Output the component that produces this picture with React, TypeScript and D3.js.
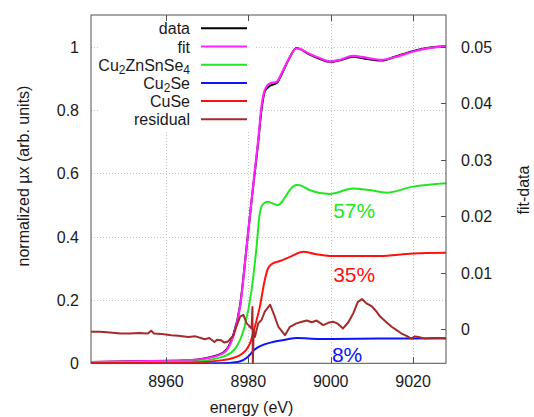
import React, { useEffect, useRef } from "react";
import * as d3 from "d3";

const W = 534;
const H = 417;

const xTicks = [8960, 8980, 9000, 9020];
const yTicks = [0, 0.2, 0.4, 0.6, 0.8, 1];
const y2Ticks = [0, 0.01, 0.02, 0.03, 0.04, 0.05];

// measured spectrum and total fit (normalized)
const edgeEnergy = [
  8941.8, 8956.1, 8965.8, 8969.9, 8973.9, 8976.3, 8978.0, 8979.6, 8980.8, 8981.6,
  8982.4, 8983.2, 8984.0, 8985.2, 8986.9, 8988.1, 8989.7, 8991.7, 8992.5, 8994.9,
  8997.3, 8999.8, 9002.2, 9005.4, 9008.3, 9012.3, 9015.6, 9019.9, 9024.1, 9028.0,
];
const dataMu = [
  0.004, 0.007, 0.01, 0.017, 0.034, 0.088, 0.183, 0.37, 0.515, 0.606,
  0.698, 0.8, 0.858, 0.876, 0.885, 0.913, 0.957, 0.996, 0.993, 0.975,
  0.962, 0.952, 0.957, 0.968, 0.962, 0.956, 0.968, 0.986, 0.997, 1.001,
];
const fitMu = [
  0.004, 0.007, 0.01, 0.016, 0.032, 0.084, 0.179, 0.368, 0.516, 0.611,
  0.705, 0.81, 0.863, 0.884, 0.889, 0.916, 0.958, 0.995, 0.993, 0.977,
  0.964, 0.953, 0.958, 0.971, 0.966, 0.958, 0.967, 0.984, 0.996, 1.002,
];

// weighted standards
const cztsEnergy = [
  8941.8, 8965.8, 8973.9, 8977.1, 8979.1, 8980.8, 8982.0, 8982.8, 8983.6, 8984.8,
  8985.7, 8987.2, 8988.8, 8990.1, 8991.7, 8992.5, 8994.9, 8999.8, 9005.4, 9009.5,
  9013.6, 9019.9, 9028.0,
];
const cztsMu = [
  0.003, 0.005, 0.021, 0.052, 0.116, 0.232, 0.368, 0.475, 0.503, 0.51,
  0.506, 0.5, 0.522, 0.548, 0.563, 0.562, 0.547, 0.535, 0.552, 0.547,
  0.539, 0.558, 0.569,
];

const cu2seEnergy = [
  8941.8, 8973.0, 8977.7, 8979.8, 8981.4, 8983.0, 8986.2, 8989.5, 8991.7, 8997.4,
  9012.0, 9028.0,
];
const cu2seMu = [0.0, 0.0, 0.005, 0.019, 0.042, 0.055, 0.068, 0.076, 0.08, 0.077, 0.078, 0.079];

const cuseEnergy = [
  8941.8, 8965.8, 8973.9, 8978.0, 8980.4, 8981.6, 8982.8, 8984.0, 8984.8, 8986.0,
  8987.7, 8990.1, 8993.4, 8996.2, 8999.8, 9011.9, 9020.0, 9028.0,
];
const cuseMu = [
  0.001, 0.002, 0.01, 0.026, 0.063, 0.116, 0.179, 0.263, 0.3, 0.316,
  0.323, 0.336, 0.352, 0.345, 0.339, 0.339, 0.347, 0.349,
];

// fit - data, right axis
const residEnergy = [
  8941.8, 8944.0, 8946.4, 8949.0, 8951.3, 8953.5, 8955.6, 8956.4, 8957.1, 8959.0,
  8961.3, 8963.0, 8965.4, 8967.2, 8969.4, 8970.5, 8971.8, 8972.4, 8973.4, 8974.2,
  8975.1, 8976.4, 8977.1, 8978.0, 8978.8, 8979.6, 8980.8, 8981.0, 8981.1, 8981.3,
  8981.6, 8982.4, 8983.2, 8984.0, 8985.3, 8986.1, 8987.3, 8988.9, 8990.1, 8991.7,
  8993.0, 8994.2, 8995.4, 8996.6, 8998.2, 8999.4, 9000.6, 9001.8, 9003.0, 9004.3,
  9005.5, 9006.6, 9007.6, 9008.6, 9010.0, 9011.0, 9012.0, 9013.4, 9014.8, 9016.0,
  9017.2, 9018.4, 9019.6, 9020.4, 9021.3, 9022.9, 9025.0, 9028.0,
];
const residVal = [
  -0.0005, -0.0005, -0.0006, -0.0008, -0.0008, -0.0007, -0.0008, -0.0003, -0.0008, -0.0009,
  -0.0011, -0.0012, -0.0014, -0.0013, -0.0018, -0.0016, -0.0023, -0.0019, -0.002, -0.0024,
  -0.0022, -0.0011, 0.0004, 0.0022, 0.0025, 0.001, 0.0001, 0.0039, -0.006, -0.0002,
  -0.0014, 0.001, 0.0016, 0.0031, 0.0043, 0.0028, 0.0004, -0.0011, 0.0004, 0.001,
  0.0013, 0.0015, 0.0012, 0.0015, 0.0007, 0.0011, 0.0013, 0.0009, 0.0001, 0.0012,
  0.0028, 0.0048, 0.0053, 0.0046, 0.004, 0.0032, 0.0022, 0.0013, 0.0004, -0.0002,
  -0.0008, -0.0012, -0.0017, -0.0013, -0.0014, -0.0017, -0.0016, -0.0017,
];

const legendLabels = ["data", "fit", "Cu2ZnSnSe4", "Cu2Se", "CuSe", "residual"];
const legendColors = ["#000000", "#ff22ff", "#22e622", "#0a14ff", "#ff1010", "#a52a2a"];
const fractionLabels = ["57%", "35%", "8%"];

export default function App() {
  const ref = useRef<SVGSVGElement>(null);

  useEffect(() => {
    const font = "'Liberation Sans', Arial, Helvetica, sans-serif";
    const svg = d3.select(ref.current).attr("width", W).attr("height", H);
    svg.selectAll("*").remove();

    const left = 91, right = 446, top = 15, bottom = 363.3;

    const x = d3.scaleLinear().domain([8941.8, 9028]).range([left, right]);
    const y = d3.scaleLinear().domain([0, 1.1]).range([bottom, top]);
    const y2 = d3.scaleLinear().domain([-0.00607, 0.05561]).range([bottom, top]);

    svg.append("rect").attr("width", W).attr("height", H).attr("fill", "#ffffff");

    // grid
    const grid = svg.append("g").attr("stroke", "#c4c4c4").attr("stroke-width", 1).attr("stroke-dasharray", "1,2");
    grid
      .selectAll(".gx")
      .data(xTicks)
      .join("line")
      .attr("x1", (d) => Math.round(x(d)) + 0.5)
      .attr("x2", (d) => Math.round(x(d)) + 0.5)
      .attr("y1", top)
      .attr("y2", bottom);
    grid
      .selectAll(".gy")
      .data(yTicks.filter((d) => d > 0))
      .join("line")
      .attr("x1", left)
      .attr("x2", right)
      .attr("y1", (d) => Math.round(y(d)) + 0.5)
      .attr("y2", (d) => Math.round(y(d)) + 0.5);

    // opaque key background
    svg.append("rect").attr("x", 100).attr("y", 19).attr("width", 155).attr("height", 111).attr("fill", "#ffffff");

    const defs = svg.append("defs");
    defs
      .append("clipPath")
      .attr("id", "plotclip")
      .append("rect")
      .attr("x", left)
      .attr("y", top)
      .attr("width", right - left)
      .attr("height", bottom - top + 1);

    const plot = svg.append("g").attr("clip-path", "url(#plotclip)");

    const smooth = (ex: number[], vals: number[]) =>
      d3
        .line<number>()
        .x((_, i) => x(ex[i]))
        .y((d) => y(d))
        .curve(d3.curveMonotoneX)(vals);

    const series = [
      { e: edgeEnergy, v: dataMu, c: legendColors[0], w: 2 },
      { e: edgeEnergy, v: fitMu, c: legendColors[1], w: 2.2 },
      { e: cztsEnergy, v: cztsMu, c: legendColors[2], w: 2 },
      { e: cu2seEnergy, v: cu2seMu, c: legendColors[3], w: 2 },
      { e: cuseEnergy, v: cuseMu, c: legendColors[4], w: 2 },
    ];
    series.forEach((s) => {
      plot
        .append("path")
        .attr("d", smooth(s.e, s.v))
        .attr("fill", "none")
        .attr("stroke", s.c)
        .attr("stroke-width", s.w)
        .attr("stroke-linejoin", "round");
    });

    const residLine = d3
      .line<number>()
      .x((_, i) => x(residEnergy[i]))
      .y((d) => y2(d));
    plot
      .append("path")
      .attr("d", residLine(residVal))
      .attr("fill", "none")
      .attr("stroke", legendColors[5])
      .attr("stroke-width", 2)
      .attr("stroke-linejoin", "round");

    // border
    svg
      .append("rect")
      .attr("x", left)
      .attr("y", top)
      .attr("width", right - left)
      .attr("height", bottom - top)
      .attr("fill", "none")
      .attr("stroke", "#505050")
      .attr("stroke-width", 1);

    // ticks
    const ticks = svg.append("g").attr("stroke", "#505050").attr("stroke-width", 1);
    xTicks.forEach((t) => {
      const px = Math.round(x(t)) + 0.5;
      ticks.append("line").attr("x1", px).attr("x2", px).attr("y1", bottom).attr("y2", bottom - 6);
      ticks.append("line").attr("x1", px).attr("x2", px).attr("y1", top).attr("y2", top + 6);
    });
    y2Ticks.forEach((t) => {
      const py = Math.round(y2(t)) + 0.5;
      ticks.append("line").attr("x1", right).attr("x2", right - 5).attr("y1", py).attr("y2", py);
    });

    const txt = svg.append("g").attr("font-family", font).attr("font-size", 16).attr("fill", "#1a1a1a");
    txt
      .selectAll(".xl")
      .data(xTicks)
      .join("text")
      .attr("x", (d) => x(d))
      .attr("y", 387)
      .attr("text-anchor", "middle")
      .text((d) => d3.format("d")(d));
    txt
      .selectAll(".yl")
      .data(yTicks)
      .join("text")
      .attr("x", 79)
      .attr("y", (d) => y(d) + 6)
      .attr("text-anchor", "end")
      .text((d) => (d === 0 ? "0" : d3.format("")(d)));
    txt
      .selectAll(".y2l")
      .data(y2Ticks)
      .join("text")
      .attr("x", 461)
      .attr("y", (d) => y2(d) + 6)
      .attr("text-anchor", "start")
      .text((d) => (d === 0 ? "0" : d3.format(".2f")(d)));

    txt
      .append("text")
      .attr("x", (left + right) / 2 - 17)
      .attr("y", 413)
      .attr("text-anchor", "middle")
      .text("energy (eV)");
    txt
      .append("text")
      .attr("transform", `translate(29, 176) rotate(-90)`)
      .attr("text-anchor", "middle")
      .text("normalized \u00b5x (arb. units)");
    txt
      .append("text")
      .attr("transform", `translate(529, 190) rotate(-90)`)
      .attr("text-anchor", "middle")
      .text("fit-data");

    // legend
    const key = svg.append("g");
    legendLabels.forEach((lab, i) => {
      const cy = 28.3 + i * 18.2;
      const t = key
        .append("text")
        .attr("x", 190)
        .attr("y", cy + 6)
        .attr("text-anchor", "end")
        .attr("font-family", font)
        .attr("font-size", 16)
        .attr("fill", "#1a1a1a");
      const parts = lab.startsWith("Cu") ? lab.split(/(\d)/).filter((p) => p !== "") : [lab];
      let shifted = false;
      parts.forEach((p) => {
        if (/^\d$/.test(p)) {
          t.append("tspan").attr("font-size", 12).attr("dy", 3).text(p);
          shifted = true;
        } else {
          t.append("tspan").attr("dy", shifted ? -3 : 0).text(p);
          shifted = false;
        }
      });
      key
        .append("line")
        .attr("x1", 201)
        .attr("x2", 247)
        .attr("y1", cy)
        .attr("y2", cy)
        .attr("stroke", legendColors[i])
        .attr("stroke-width", 2);
    });

    // component fractions
    const fracPos = [
      { e: 9000.6, v: 0.459, c: legendColors[2] },
      { e: 9000.6, v: 0.258, c: legendColors[4] },
      { e: 9000.3, v: 0.005, c: legendColors[3] },
    ];
    fractionLabels.forEach((f, i) => {
      svg
        .append("text")
        .attr("x", x(fracPos[i].e))
        .attr("y", y(fracPos[i].v))
        .attr("font-family", font)
        .attr("font-size", 21)
        .attr("fill", fracPos[i].c)
        .text(f);
    });
  }, []);

  return <svg ref={ref} style={{ position: "absolute", left: 0, top: 0, display: "block" }} />;
}
